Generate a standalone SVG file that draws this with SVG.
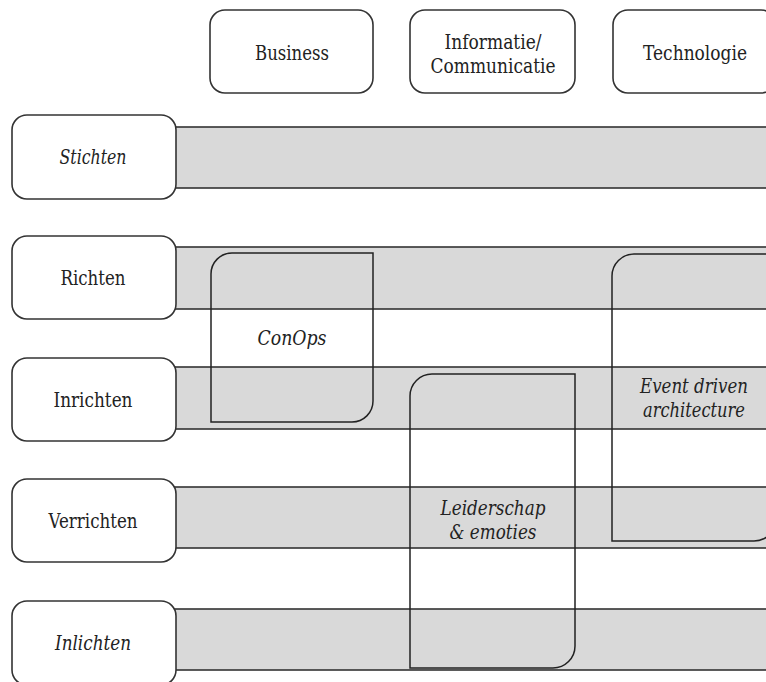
<svg xmlns="http://www.w3.org/2000/svg" width="766" height="682" viewBox="0 0 766 682">
<style>
.lbl{fill:#fff;stroke:#333;stroke-width:1.6}
.band{fill:#d9d9d9;stroke:#333;stroke-width:1.6}
.ovl{fill:none;stroke:#222;stroke-width:1.5}
.it{font-style:italic}
text{font-family:'DejaVu Serif','Liberation Serif',serif;font-size:21px;fill:#222;text-anchor:middle}
</style>
<rect width="766" height="682" fill="#fff"/>
<g id="bands">
<rect class="band" x="170" y="127" width="610" height="61"/>
<rect class="band" x="170" y="247" width="610" height="62"/>
<rect class="band" x="170" y="367" width="610" height="62"/>
<rect class="band" x="170" y="487" width="610" height="61"/>
<rect class="band" x="170" y="609" width="610" height="61"/>
</g>
<g id="col-business"><rect class="lbl" x="210" y="10" width="163" height="83" rx="15"/><text x="292" y="60" textLength="74" lengthAdjust="spacingAndGlyphs">Business</text></g>
<g id="col-informatie"><rect class="lbl" x="410" y="10" width="165" height="83" rx="15"/><text x="493" y="49" textLength="97" lengthAdjust="spacingAndGlyphs">Informatie/</text><text x="493" y="73" textLength="125" lengthAdjust="spacingAndGlyphs">Communicatie</text></g>
<g id="col-technologie"><rect class="lbl" x="613" y="10" width="163" height="83" rx="15"/><text x="695" y="60" textLength="104" lengthAdjust="spacingAndGlyphs">Technologie</text></g>
<g id="row-stichten"><rect class="lbl" x="12" y="115" width="164" height="84" rx="15"/><text class="it" x="93" y="164" textLength="67" lengthAdjust="spacingAndGlyphs">Stichten</text></g>
<g id="row-richten"><rect class="lbl" x="12" y="236" width="164" height="83" rx="15"/><text x="93" y="285" textLength="65" lengthAdjust="spacingAndGlyphs">Richten</text></g>
<g id="row-inrichten"><rect class="lbl" x="12" y="358" width="164" height="83" rx="15"/><text x="93" y="407" textLength="79" lengthAdjust="spacingAndGlyphs">Inrichten</text></g>
<g id="row-verrichten"><rect class="lbl" x="12" y="479" width="164" height="83" rx="15"/><text x="93" y="528" textLength="89" lengthAdjust="spacingAndGlyphs">Verrichten</text></g>
<g id="row-inlichten"><rect class="lbl" x="12" y="601" width="164" height="84" rx="15"/><text class="it" x="93" y="650" textLength="76" lengthAdjust="spacingAndGlyphs">Inlichten</text></g>
<g id="conops"><path class="ovl" d="M211,422 V274 A21,21 0 0 1 232,253 H373 V401 A21,21 0 0 1 352,422 Z"/><text class="it" x="292" y="345" textLength="69" lengthAdjust="spacingAndGlyphs">ConOps</text></g>
<g id="leiderschap"><path class="ovl" d="M410,668 V396 A22,22 0 0 1 432,374 H575 V646 A22,22 0 0 1 553,668 Z"/><text class="it" x="493" y="515" textLength="105" lengthAdjust="spacingAndGlyphs">Leiderschap</text><text class="it" x="493" y="539" textLength="87" lengthAdjust="spacingAndGlyphs">&amp; emoties</text></g>
<g id="eda"><path class="ovl" d="M612,541 V276 A22,22 0 0 1 634,254 H776 V519 A22,22 0 0 1 754,541 Z"/><text class="it" x="694" y="393" textLength="108" lengthAdjust="spacingAndGlyphs">Event driven</text><text class="it" x="694" y="417" textLength="102" lengthAdjust="spacingAndGlyphs">architecture</text></g>
<g id="connectors"/>
</svg>
